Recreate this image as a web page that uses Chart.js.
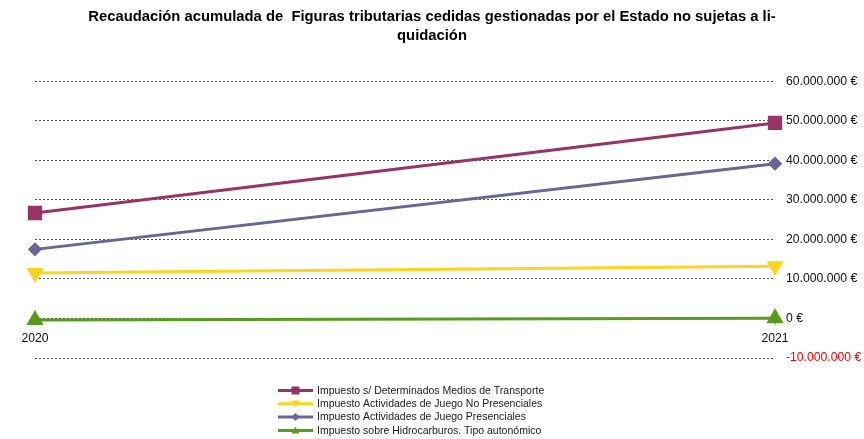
<!DOCTYPE html>
<html>
<head>
<meta charset="utf-8">
<script src="https://cdn.jsdelivr.net/npm/chart.js@4.4.0/dist/chart.umd.min.js"></script>
<style>
  html, body { margin: 0; padding: 0; background: #fff; }
  #wrap { width: 864px; height: 439px; position: relative; }
</style>
</head>
<body>
<div id="wrap"><canvas id="chart"></canvas></div>
<script>
var years = ['2020', '2021'];
var transporte = [26700000, 49500000];
var juegoNoPresencial = [11500000, 13200000];
var juegoPresencial = [17500000, 39200000];
var hidrocarburos = [-400000, 50000];
var yTicks = [-10000000, 0, 10000000, 20000000, 30000000, 40000000, 50000000, 60000000];

var seriesNames = [
  'Impuesto s/ Determinados Medios de Transporte',
  'Impuesto Actividades de Juego No Presenciales',
  'Impuesto Actividades de Juego Presenciales',
  'Impuesto sobre Hidrocarburos. Tipo autonómico'
];

function euro(v) {
  var s = Math.abs(v).toString().replace(/\B(?=(\d{3})+(?!\d))/g, '.');
  return (v < 0 ? '-' : '') + s + ' €';
}

function marker(ctx, style, x, y, r, color) {
  ctx.save();
  ctx.fillStyle = color;
  ctx.beginPath();
  if (style == 'rect') {
    ctx.rect(x - r, y - r, 2 * r, 2 * r);
  } else if (style == 'down') {
    ctx.moveTo(x - r, y - r * 0.8);
    ctx.lineTo(x + r, y - r * 0.8);
    ctx.lineTo(x, y + r * 0.9);
  } else if (style == 'diamond') {
    ctx.moveTo(x, y - r);
    ctx.lineTo(x + r, y);
    ctx.lineTo(x, y + r);
    ctx.lineTo(x - r, y);
  } else {
    ctx.moveTo(x - r, y + r * 0.8);
    ctx.lineTo(x + r, y + r * 0.8);
    ctx.lineTo(x, y - r * 0.9);
  }
  ctx.closePath();
  ctx.fill();
  ctx.restore();
}

var legendMarks = ['rect', 'down', 'diamond', 'up'];

// leyenda vertical debajo del grafico
var legendPlugin = {
  id: 'vertLegend',
  afterDraw: function(chart) {
    var ctx = chart.ctx;
    var x0 = 278, y0 = 390.5, step = 13.3;
    chart.data.datasets.forEach(function(ds, i) {
      var y = y0 + i * step;
      ctx.save();
      ctx.strokeStyle = ds.borderColor;
      ctx.lineWidth = 3;
      ctx.beginPath();
      ctx.moveTo(x0, y);
      ctx.lineTo(x0 + 35, y);
      ctx.stroke();
      marker(ctx, legendMarks[i], x0 + 17.5, y, 4, ds.borderColor);
      ctx.fillStyle = '#222';
      ctx.font = '10.5px "Liberation Sans", Arial, sans-serif';
      ctx.textBaseline = 'middle';
      ctx.fillText(ds.label, x0 + 39, y + 0.5);
      ctx.restore();
    });
  }
};

var fam = '"Liberation Sans", Arial, sans-serif';

var ctx = document.getElementById('chart').getContext('2d');
var chart = new Chart(ctx, {
  type: 'line',
  data: {
    labels: years,
    datasets: [
      { label: seriesNames[0], data: transporte, yAxisID: 'y', borderColor: '#993366', backgroundColor: '#993366',
        borderWidth: 3, pointStyle: 'rect', pointRadius: 8, pointHoverRadius: 8 },
      { label: seriesNames[1], data: juegoNoPresencial, yAxisID: 'y', borderColor: '#ffd320', backgroundColor: '#ffd320',
        borderWidth: 3, pointStyle: 'triangle', rotation: 180, pointRadius: 7, pointHoverRadius: 7 },
      { label: seriesNames[2], data: juegoPresencial, yAxisID: 'y', borderColor: '#666699', backgroundColor: '#666699',
        borderWidth: 3, pointStyle: 'rectRot', pointRadius: 5, pointHoverRadius: 5 },
      { label: seriesNames[3], data: hidrocarburos, yAxisID: 'y', borderColor: '#579d1c', backgroundColor: '#579d1c',
        borderWidth: 3, pointStyle: 'triangle', pointRadius: 7, pointHoverRadius: 7 }
    ]
  },
  options: {
    responsive: true,
    maintainAspectRatio: false,
    animation: false,
    layout: { padding: { left: 0, right: 0, top: 0, bottom: 81 } },
    plugins: {
      legend: { display: false },
      tooltip: { enabled: false },
      title: {
        display: true,
        text: ['Recaudación acumulada de  Figuras tributarias cedidas gestionadas por el Estado no sujetas a li-', 'quidación'],
        color: '#000',
        font: { family: fam, size: 14.8, weight: 'bold', lineHeight: 1.3 },
        padding: { top: 7, bottom: 36 }
      }
    },
    scales: {
      x: {
        position: { y: 0 },
        offset: false,
        border: { display: false },
        grid: { display: true, drawOnChartArea: false, tickLength: 6, color: '#777' },
        ticks: { color: '#111', padding: 7, font: { family: fam, size: 12.2 } }
      },
      spacer: {
        type: 'linear',
        position: 'left',
        display: true,
        afterFit: function(s) { s.width = 35; },
        border: { display: false },
        grid: { display: false },
        ticks: { display: false }
      },
      y: {
        position: 'right',
        min: -10000000,
        max: 60000000,
        afterBuildTicks: function(s) { s.ticks = yTicks.map(function(v) { return { value: v }; }); },
        afterFit: function(s) { s.width = 89; },
        border: { display: false, dash: [2, 2] },
        grid: { color: '#555', lineWidth: 1, drawTicks: false },
        ticks: {
          padding: 11,
          crossAlign: 'near',
          callback: function(v) { return euro(v); },
          color: function(c) { return c.tick.value < 0 ? '#ff0000' : '#111'; },
          font: { family: fam, size: 12.2 }
        }
      }
    }
  },
  plugins: [legendPlugin]
});
</script>
</body>
</html>
